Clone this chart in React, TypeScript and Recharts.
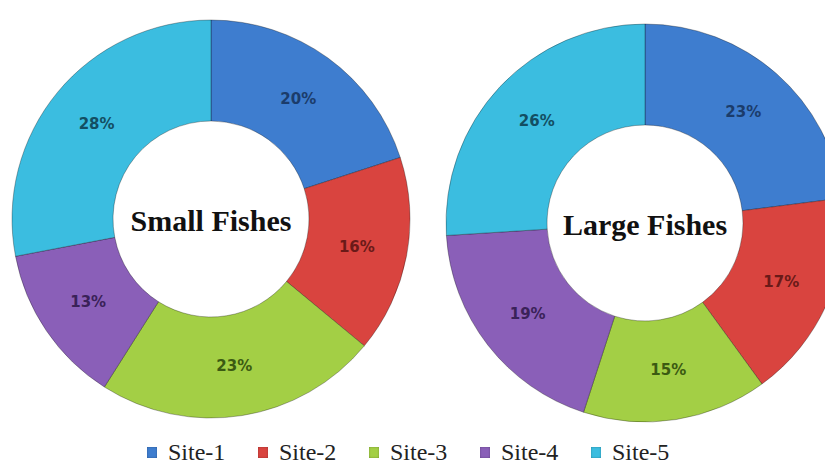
import React from 'react';
import { PieChart, Pie, Cell, Legend } from 'recharts';

const sites = ['Site-1', 'Site-2', 'Site-3', 'Site-4', 'Site-5'];
const smallFishes = [20, 16, 23, 13, 28];
const largeFishes = [23, 17, 15, 19, 26];
const titles = ['Small Fishes', 'Large Fishes'];

const colors = ['#3e7dcf', '#d9443f', '#a3cf45', '#8a5fb8', '#3bbde0'];
const labelColors = ['#1b3c6b', '#6a1a18', '#3b5a12', '#3a2258', '#134e62'];

const RADIAN = Math.PI / 180;

// slice labels sit at mid radius; the first slice also draws the donut's centre title
const makeLabel = (title: string) => (props: any) => {
  const { cx, cy, midAngle, innerRadius, outerRadius, value, index } = props;
  const r = (innerRadius + outerRadius) / 2;
  const x = cx + r * Math.cos(-midAngle * RADIAN);
  const y = cy + r * Math.sin(-midAngle * RADIAN);
  return (
    <g>
      <text
        x={x}
        y={y}
        textAnchor="middle"
        dominantBaseline="central"
        fill={labelColors[index]}
        fontFamily="'DejaVu Sans', sans-serif"
        fontWeight="bold"
        fontSize={15}
      >
        {value}%
      </text>
      {index === 0 && (
        <text
          x={cx}
          y={cy + 12}
          textAnchor="middle"
          fill="#111"
          fontFamily="'Liberation Serif', serif"
          fontWeight="bold"
          fontSize={30}
        >
          {title}
        </text>
      )}
    </g>
  );
};

const renderLegend = () => (
  <div style={{ display: 'flex', paddingLeft: 147 }}>
    {sites.map((site, i) => (
      <div key={site} style={{ display: 'flex', alignItems: 'center', width: 111, height: 26 }}>
        <span
          style={{
            display: 'inline-block',
            width: 10,
            height: 11,
            background: colors[i],
            marginRight: 11,
            boxShadow: 'inset 0 0 2px rgba(0,0,0,0.35)',
          }}
        />
        <span style={{ fontFamily: "'Liberation Serif', serif", fontSize: 24, color: '#222', lineHeight: '26px' }}>
          {site}
        </span>
      </div>
    ))}
  </div>
);

const App = () => {
  const smallData = sites.map((name, i) => ({ name, value: smallFishes[i] }));
  const largeData = sites.map((name, i) => ({ name, value: largeFishes[i] }));

  return (
    <div style={{ position: 'absolute', left: 0, top: 0, width: 825, height: 465, background: '#fff' }}>
      <PieChart width={825} height={465}>
        <Pie
          data={smallData}
          dataKey="value"
          cx={206}
          cy={214}
          innerRadius={98}
          outerRadius={199}
          startAngle={90}
          endAngle={-270}
          stroke="rgba(0,0,0,0.3)"
          strokeWidth={1}
          label={makeLabel(titles[0])}
          labelLine={false}
          isAnimationActive={false}
        >
          {smallData.map((d, i) => (
            <Cell key={d.name} fill={colors[i]} />
          ))}
        </Pie>
        <Pie
          data={largeData}
          dataKey="value"
          cx={640}
          cy={218}
          innerRadius={98}
          outerRadius={199}
          startAngle={90}
          endAngle={-270}
          stroke="rgba(0,0,0,0.3)"
          strokeWidth={1}
          label={makeLabel(titles[1])}
          labelLine={false}
          isAnimationActive={false}
        >
          {largeData.map((d, i) => (
            <Cell key={d.name} fill={colors[i]} />
          ))}
        </Pie>
        <Legend
          content={renderLegend}
          wrapperStyle={{ position: 'absolute', left: 0, top: 439, width: 825 }}
        />
      </PieChart>
    </div>
  );
};

export default App;
